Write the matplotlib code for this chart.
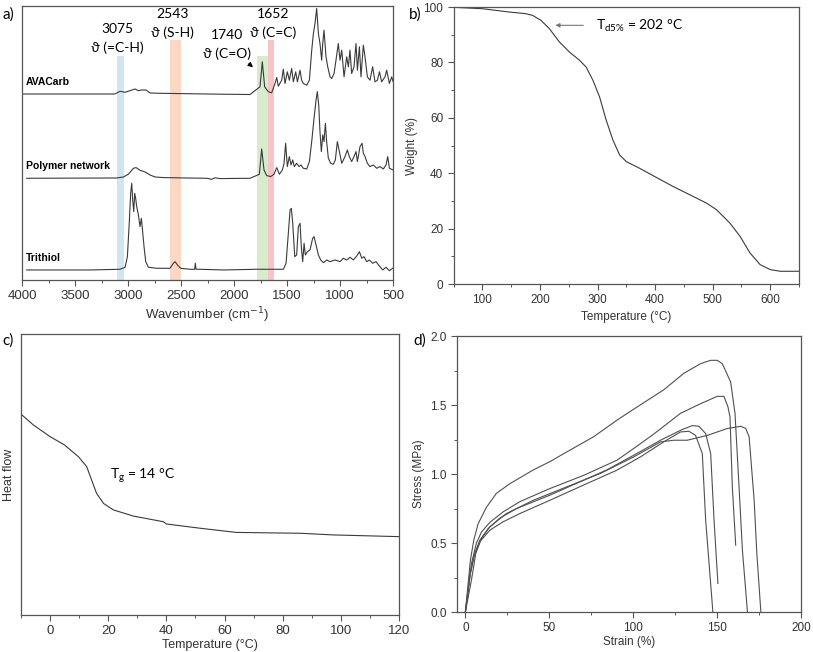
import matplotlib
matplotlib.use("Agg")
import matplotlib.pyplot as plt
from matplotlib.ticker import MultipleLocator, NullLocator

# ---------------- data ----------------
# a) FTIR spectra (wavenumber cm-1, intensity above own baseline, a.u.)
ava_wn = [3990, 3123, 3107, 3075, 3028, 2981, 2934, 2902, 2871, 2830, 2792, 2698, 2446, 2132, 1870,
          1849, 1755, 1733, 1711, 1676, 1645, 1613, 1597, 1582, 1550, 1535, 1519, 1497, 1478, 1456,
          1440, 1418, 1402, 1377, 1362, 1346, 1314, 1289, 1267, 1251, 1236, 1220, 1204, 1189, 1173,
          1163, 1151, 1132, 1116, 1094, 1078, 1056, 1038, 1016, 1000, 984, 962, 937, 921, 906, 890,
          868, 849, 836, 817, 802, 780, 764, 742, 717, 692, 670, 647, 628, 607, 575, 560, 534, 512, 500]
ava_int = [0.5, 0.5, 1.5, 3.2, 2.2, 3.8, 5.5, 3.8, 4.5, 4.5, 1.5, 1.2, 0.8, 0.3, 0,
           0, 7.7, 32.7, 7.7, 2.7, 1.7, 11, 17, 8.3, 14.3, 25.3, 11, 22.7, 14.3, 26,
           12.7, 22.7, 12.7, 24.3, 14.3, 11, 9.3, 14.3, 44, 61, 71, 86, 61, 51, 34.3,
           51, 64.3, 37.7, 27.7, 17.7, 16, 21, 34.3, 51, 34.3, 44.3, 17.7, 37.7, 27.7, 44.3, 21,
           27.7, 51, 24.3, 47.7, 17.7, 49.3, 37.7, 17.7, 14.3, 27.7, 12.7, 14.3, 22.7, 12.7, 17.7, 24.3, 11, 17.7, 13]

poly_wn = [3956, 3107, 3044, 2997, 2949, 2924, 2887, 2839, 2792, 2745, 2667, 2446, 2258, 2211, 2179, 2132,
           1849, 1761, 1739, 1717, 1692, 1654, 1623, 1597, 1572, 1544, 1528, 1513, 1497, 1478, 1462,
           1446, 1431, 1409, 1387, 1368, 1346, 1314, 1289, 1267, 1245, 1226, 1214, 1201, 1189, 1176,
           1163, 1151, 1138, 1126, 1110, 1088, 1063, 1044, 1025, 1006, 984, 953, 931, 912, 890, 868,
           849, 836, 811, 792, 780, 764, 742, 717, 685, 654, 623, 591, 566, 550, 534, 500]
poly_int = [0, 0.3, 1.3, 4, 10, 10.7, 8, 6.3, 3.3, 1.3, 0.7, 0.3, 0, -1, 0.5, -0.3,
            0, 4, 29.3, 8.3, 2.7, 1.7, 4, 10.7, 4, 8.3, 15, 35, 11.7, 21.7, 13.3,
            18.3, 11.7, 15, 11.7, 13.3, 10, 9.3, 16.7, 36.7, 60, 78.3, 86.7, 73.3, 46.7, 26.7,
            43.3, 36.7, 55, 36.7, 20, 15, 14, 18.3, 36.7, 26.7, 15, 21.7, 28.3, 21.7, 16.7, 21.7,
            26.7, 16.7, 31.7, 35, 25, 21.7, 15, 11.7, 13.3, 10, 11.7, 9.3, 13.3, 21.7, 10, 8.3]

thiol_wn = [3956, 3358, 3075, 3028, 3006, 2987, 2975, 2965, 2956, 2946, 2937, 2928, 2918, 2902, 2887,
            2874, 2865, 2849, 2833, 2808, 2729, 2604, 2572, 2556, 2534, 2503, 2415, 2371, 2365, 2358,
            2321, 2100, 1786, 1723, 1534, 1509, 1490, 1471, 1459, 1446, 1427, 1409, 1393, 1377, 1365,
            1352, 1339, 1327, 1308, 1283, 1258, 1245, 1226, 1204, 1182, 1157, 1125, 1094, 1047, 1000,
            968, 937, 905, 874, 842, 817, 795, 773, 748, 723, 692, 660, 629, 597, 566, 534, 503]
thiol_int = [0, 0, 0.7, 2.7, 13.3, 50, 76.7, 86.7, 70, 58.3, 76.7, 71.7, 63.3, 55, 43.3,
             51.7, 41.7, 23.3, 8.3, 2.7, 1.7, 1.7, 6.7, 8.3, 5, 1.7, 0.7, 0.7, 6.7, 0.7,
             0.7, 0, 0.7, 0.7, 0.7, 6.7, 33.3, 60, 61.7, 46.7, 13.3, 15, 43.3, 46.7, 23.3,
             8.3, 26.7, 15, 18.3, 20, 31.7, 33.3, 25, 15, 10, 7.3, 10, 8.3, 10, 8.3,
             11.7, 10, 12.7, 10, 14, 18.3, 11.7, 13.3, 8.3, 10, 6.7, 8.3, 4, 0, 2.7, -0.7, 1.7]

spectra = ["AVACarb", "Polymer network", "Trithiol"]
offsets = [185.5, 101.7, 10]

band_lo = [3038, 2500, 1682, 1623]
band_hi = [3107, 2604, 1780, 1676]
band_top = [224, 240, 224, 240]
band_colors = ["#d3e4f3", "#fbd8c4", "#d8ebcd", "#f8c4c6"]
band_nums = ["3075", "2543", "1740", "1652"]
band_modes = ["ϑ (=C-H)", "ϑ (S-H)", "ϑ (C=O)", "ϑ (C=C)"]

# b) TGA
tga_T = [50, 100, 146.5, 175.6, 187, 201.7, 216.3, 233.7, 251, 268.6, 280, 291.9, 303.5, 315, 326.7,
         338.4, 350, 373, 399.4, 431.4, 466.3, 489.5, 507, 530, 547.7, 565, 582.6, 600, 617.5, 650]
tga_w = [99.9, 99.4, 98.2, 97.6, 97, 95.2, 92.2, 87.4, 83.8, 80.8, 78.4, 73.6, 67.6, 59.2, 52,
         46.6, 44.2, 41.8, 38.8, 35.2, 31.6, 29.2, 26.8, 22, 17.2, 11.2, 7, 5.2, 4.6, 4.6]

# c) DSC
dsc_T = [-10, -5.7, 0, 5, 9.8, 12.6, 14.3, 16, 18.4, 21.8, 28.7, 39, 40, 51.5, 64, 86, 97.5, 120]
dsc_hf = [0.715, 0.676, 0.635, 0.605, 0.563, 0.528, 0.480, 0.433, 0.397, 0.374, 0.352, 0.332, 0.324,
          0.309, 0.294, 0.291, 0.285, 0.279]

# d) tensile tests (strain %, stress MPa), five specimens
strain_1 = [0, 3, 5, 7.6, 12.6, 18.5, 26.5, 40.5, 50.4, 60.4, 76.4, 90.3, 100.3, 118.2, 130.2, 140.2,
            146.2, 150.1, 153.1, 158.1, 160.7, 163.1, 165.1, 168.1]
stress_1 = [0, 0.376, 0.52, 0.64, 0.76, 0.86, 0.93, 1.03, 1.09, 1.16, 1.27, 1.39, 1.47, 1.61, 1.73, 1.80,
            1.824, 1.824, 1.80, 1.667, 1.438, 0.907, 0.449, 0]
strain_2 = [0, 3.6, 6.6, 9.6, 14.6, 22.5, 32.5, 50.4, 70.4, 90.3, 100.3, 112.3, 128.2, 140.2, 150.1,
            154.1, 156.5, 157.7, 159.1, 161.1]
stress_2 = [0, 0.35, 0.50, 0.58, 0.65, 0.726, 0.80, 0.895, 0.99, 1.10, 1.185, 1.29, 1.44, 1.51, 1.563,
            1.563, 1.486, 1.414, 0.907, 0.485]
strain_3 = [0, 3, 5.6, 8.6, 13.6, 20.5, 30.5, 50.4, 70.4, 84.3, 100.3, 116.3, 128.2, 135.2, 139.2,
            143.2, 146.2, 148.2, 150.5]
stress_3 = [0, 0.28, 0.425, 0.52, 0.605, 0.68, 0.75, 0.847, 0.955, 1.03, 1.136, 1.245, 1.317, 1.351,
            1.346, 1.293, 1.148, 0.666, 0.207]
strain_4 = [0, 2.6, 5, 8.6, 14.6, 22.5, 32.5, 50.4, 70.4, 90.3, 104.3, 118.2, 128.2, 133.2, 137.2,
            141.2, 143.2, 147.5]
stress_4 = [0, 0.256, 0.40, 0.51, 0.593, 0.654, 0.714, 0.81, 0.92, 1.028, 1.124, 1.233, 1.305, 1.31,
            1.28, 1.148, 0.666, 0]
strain_5 = [0, 3.6, 6.2, 9.6, 14.6, 24.5, 40.5, 60.4, 80.4, 100.3, 116.3, 124.2, 132.2, 144.2, 156.1,
            164.1, 167.1, 169.1, 172.1, 173.7, 176.1]
stress_5 = [0, 0.23, 0.425, 0.533, 0.618, 0.714, 0.81, 0.907, 1.004, 1.124, 1.233, 1.245, 1.245, 1.28,
            1.33, 1.346, 1.33, 1.27, 0.81, 0.425, 0]

# ---------------- styling ----------------
plt.rcParams["font.family"] = ["Liberation Sans", "DejaVu Sans"]
ann_font = ["Lato", "DejaVu Sans"]
line_c = "#3a3a3a"
tick_c = "#333333"

fig = plt.figure(figsize=(8.13, 6.52), dpi=100)


def style_axis(ax, fs=8.5):
    for s in ax.spines.values():
        s.set_color("#555555")
        s.set_linewidth(0.9)
    ax.tick_params(which="both", direction="out", colors="#555555", labelcolor=tick_c,
                   labelsize=fs, top=False, right=False)
    ax.tick_params(which="major", length=4, width=0.8)
    ax.tick_params(which="minor", length=2.5, width=0.7)


# a) FTIR
ax_a = fig.add_axes([0.0271, 0.5706, 0.4563, 0.4202])
for lo, hi, top, col in zip(band_lo, band_hi, band_top, band_colors):
    ax_a.fill_between([lo, hi], 0, top, color=col, lw=0, zorder=0)
for wn, inten, off in zip([ava_wn, poly_wn, thiol_wn], [ava_int, poly_int, thiol_int], offsets):
    ax_a.plot(wn, [v + off for v in inten], color=line_c, lw=0.8, zorder=2)
for name, off in zip(spectra, offsets):
    ax_a.text(3962, off + 12, name, fontsize=7.5, fontweight="bold", va="center", ha="left")

num_x = [3100, 2585, 2070, 1632]
num_y = [251, 266, 245, 266]
for x, y, num, mode in zip(num_x, num_y, band_nums, band_modes):
    ax_a.text(x, y, num, fontsize=10, ha="center", va="center", family=ann_font)
    ax_a.text(x, y - 19, mode, fontsize=10, ha="center", va="center", family=ann_font)
ax_a.annotate("", xy=(1800, 211), xytext=(1880, 218),
              arrowprops=dict(arrowstyle="-|>", color="black", lw=0.8, mutation_scale=7))
ax_a.set_xlim(4000, 500)
ax_a.set_ylim(0, 274)
ax_a.xaxis.set_major_locator(MultipleLocator(500))
ax_a.xaxis.set_minor_locator(MultipleLocator(250))
ax_a.yaxis.set_major_locator(NullLocator())
style_axis(ax_a, fs=9.5)
ax_a.set_xlabel("Wavenumber (cm$^{-1}$)", fontsize=9.5, labelpad=2, color=tick_c)
fig.text(0.003, 0.978, "a)", fontsize=11, family=ann_font, va="center")

# b) TGA
ax_b = fig.add_axes([0.558, 0.5644, 0.4247, 0.4248])
ax_b.plot(tga_T, tga_w, color=line_c, lw=0.8)
ax_b.annotate("", xy=(222, 93.4), xytext=(280, 93.4),
              arrowprops=dict(arrowstyle="-|>", color="#777777", lw=0.8, mutation_scale=6))
ax_b.text(297, 93.4, "T$_{\\mathregular{d5\\%}}$ = 202 °C", fontsize=10, va="center", family=ann_font)
ax_b.set_xlim(50, 650)
ax_b.set_ylim(0, 100)
ax_b.xaxis.set_major_locator(MultipleLocator(100))
ax_b.xaxis.set_minor_locator(MultipleLocator(50))
ax_b.yaxis.set_major_locator(MultipleLocator(20))
ax_b.yaxis.set_minor_locator(MultipleLocator(10))
style_axis(ax_b)
ax_b.set_xlabel("Temperature (°C)", fontsize=8.5, labelpad=3, color=tick_c)
ax_b.set_ylabel("Weight (%)", fontsize=8.5, labelpad=4, color=tick_c)
fig.text(0.503, 0.977, "b)", fontsize=11, family=ann_font, va="center")

# c) DSC
ax_c = fig.add_axes([0.0258, 0.0567, 0.465, 0.431])
ax_c.plot(dsc_T, dsc_hf, color=line_c, lw=0.8)
ax_c.text(20.6, 0.496, "T$_{\\mathregular{g}}$ = 14 °C", fontsize=10, va="center", family=ann_font)
ax_c.set_xlim(-10, 120)
ax_c.set_ylim(0, 1)
ax_c.xaxis.set_major_locator(MultipleLocator(20))
ax_c.xaxis.set_minor_locator(MultipleLocator(10))
ax_c.yaxis.set_major_locator(NullLocator())
style_axis(ax_c, fs=9.5)
ax_c.set_xlabel("Temperature (°C)", fontsize=9, labelpad=1, color=tick_c)
ax_c.set_ylabel("Heat flow", fontsize=9, labelpad=4, color=tick_c)
fig.text(0.003, 0.478, "c)", fontsize=11, family=ann_font, va="center")

# d) tensile
ax_d = fig.add_axes([0.5621, 0.0613, 0.4231, 0.4233])
for sx, sy in zip([strain_1, strain_2, strain_3, strain_4, strain_5],
                  [stress_1, stress_2, stress_3, stress_4, stress_5]):
    ax_d.plot(sx, sy, color="#505050", lw=0.8)
ax_d.set_xlim(-5, 200)
ax_d.set_ylim(0, 2)
ax_d.xaxis.set_major_locator(MultipleLocator(50))
ax_d.xaxis.set_minor_locator(MultipleLocator(25))
ax_d.yaxis.set_major_locator(MultipleLocator(0.5))
ax_d.yaxis.set_minor_locator(MultipleLocator(0.25))
style_axis(ax_d)
ax_d.set_xlabel("Strain (%)", fontsize=8.5, labelpad=1, color=tick_c)
ax_d.set_ylabel("Stress (MPa)", fontsize=8.5, labelpad=4, color=tick_c)
fig.text(0.509, 0.478, "d)", fontsize=11, family=ann_font, va="center")

fig.savefig("out.png", dpi=100)
